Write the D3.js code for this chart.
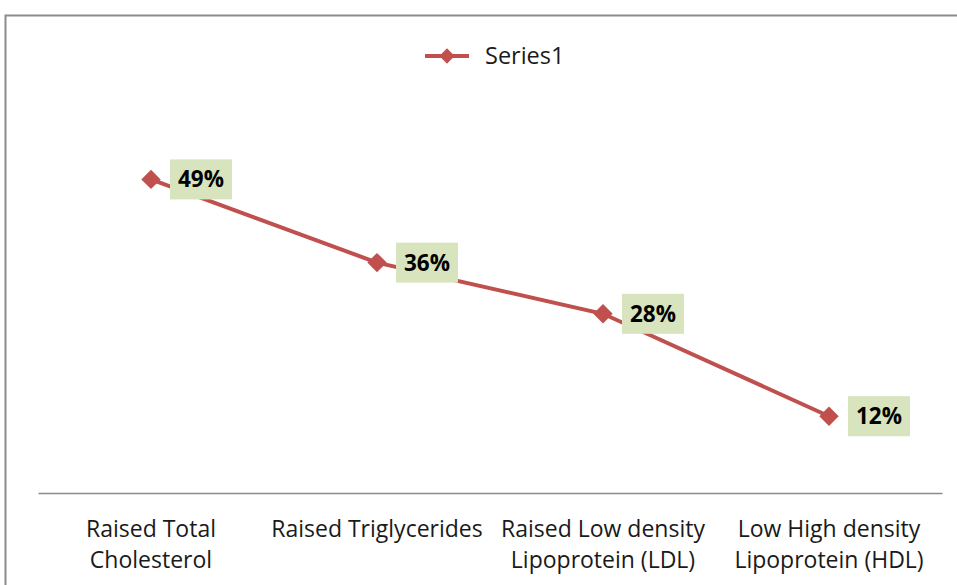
<!DOCTYPE html>
<html>
<head>
<meta charset="utf-8">
<script src="https://cdn.jsdelivr.net/npm/d3@7"></script>
<style>
  html, body { margin: 0; padding: 0; background: #fff; }
  svg { display: block; }
  text { font-family: "Open Sans", Lato, sans-serif; }
</style>
</head>
<body>
<svg id="chart" width="957" height="585"></svg>
<script>
// Share of participants with each lipid abnormality
const categories = [
  ["Raised Total", "Cholesterol"],
  ["Raised Triglycerides"],
  ["Raised Low density", "Lipoprotein (LDL)"],
  ["Low High density", "Lipoprotein (HDL)"]
];
const seriesName = "Series1";
const values = [49, 36, 28, 12];

const svg = d3.select("#chart");
const W = 957, H = 585;
const plot = { left: 38, right: 942, top: 109, bottom: 493 };
const red = "#c0504d";

// Chart frame
svg.append("path")
  .attr("d", `M5.5,${H} L5.5,15.5 L${W},15.5`)
  .attr("fill", "none")
  .attr("stroke", "#8c8c8c")
  .attr("stroke-width", 2);

const x = d3.scaleBand()
  .domain(d3.range(categories.length))
  .range([plot.left, plot.right])
  .paddingInner(0).paddingOuter(0);

const y = d3.scaleLinear().domain([0, 60]).range([plot.bottom, plot.top]);

// Category axis
const xAxis = d3.axisBottom(x).tickSize(0).tickFormat(() => "");
const gx = svg.append("g")
  .attr("transform", `translate(0,${plot.bottom})`)
  .call(xAxis);
gx.select(".domain").attr("stroke", "#8c8c8c").attr("stroke-width", 1.3);

const cx = i => x(i) + x.bandwidth() / 2;

const labels = svg.append("g");
categories.forEach((lines, i) => {
  const t = labels.append("text")
    .attr("x", cx(i))
    .attr("y", 537)
    .attr("text-anchor", "middle")
    .attr("font-size", 23)
    .attr("fill", "#1a1a1a");
  lines.forEach((ln, j) => {
    t.append("tspan")
      .attr("x", cx(i))
      .attr("dy", j === 0 ? 0 : 31)
      .text(ln);
  });
});

// Series line
const line = d3.line()
  .x((d, i) => cx(i))
  .y(d => y(d));
svg.append("path")
  .datum(values)
  .attr("d", line)
  .attr("fill", "none")
  .attr("stroke", red)
  .attr("stroke-width", 4);

// Diamond markers
const diamond = d3.symbol().type(d3.symbolDiamond2).size(240);
svg.append("g").selectAll("path")
  .data(values)
  .join("path")
  .attr("d", diamond)
  .attr("transform", (d, i) => `translate(${cx(i)},${y(d)})`)
  .attr("fill", red);

// Value labels
const lab = svg.append("g").selectAll("g")
  .data(values)
  .join("g")
  .attr("transform", (d, i) => `translate(${cx(i) + 19},${y(d)})`);
lab.append("rect")
  .attr("x", 0).attr("y", -20)
  .attr("width", 62).attr("height", 40)
  .attr("fill", "#d7e4bd");
lab.append("text")
  .attr("x", 31).attr("y", 8)
  .attr("text-anchor", "middle")
  .attr("font-size", 22.5)
  .attr("font-weight", "bold")
  .attr("fill", "#000")
  .text(d => d + "%");

// Legend
const lg = svg.append("g").attr("transform", "translate(425,56)");
lg.append("line")
  .attr("x1", 0).attr("x2", 44)
  .attr("stroke", red).attr("stroke-width", 4);
lg.append("path")
  .attr("d", d3.symbol().type(d3.symbolDiamond2).size(150))
  .attr("transform", "translate(22,0)")
  .attr("fill", red);
lg.append("text")
  .attr("x", 60).attr("y", 8)
  .attr("font-size", 23.5)
  .attr("fill", "#1a1a1a")
  .text(seriesName);
</script>
</body>
</html>
